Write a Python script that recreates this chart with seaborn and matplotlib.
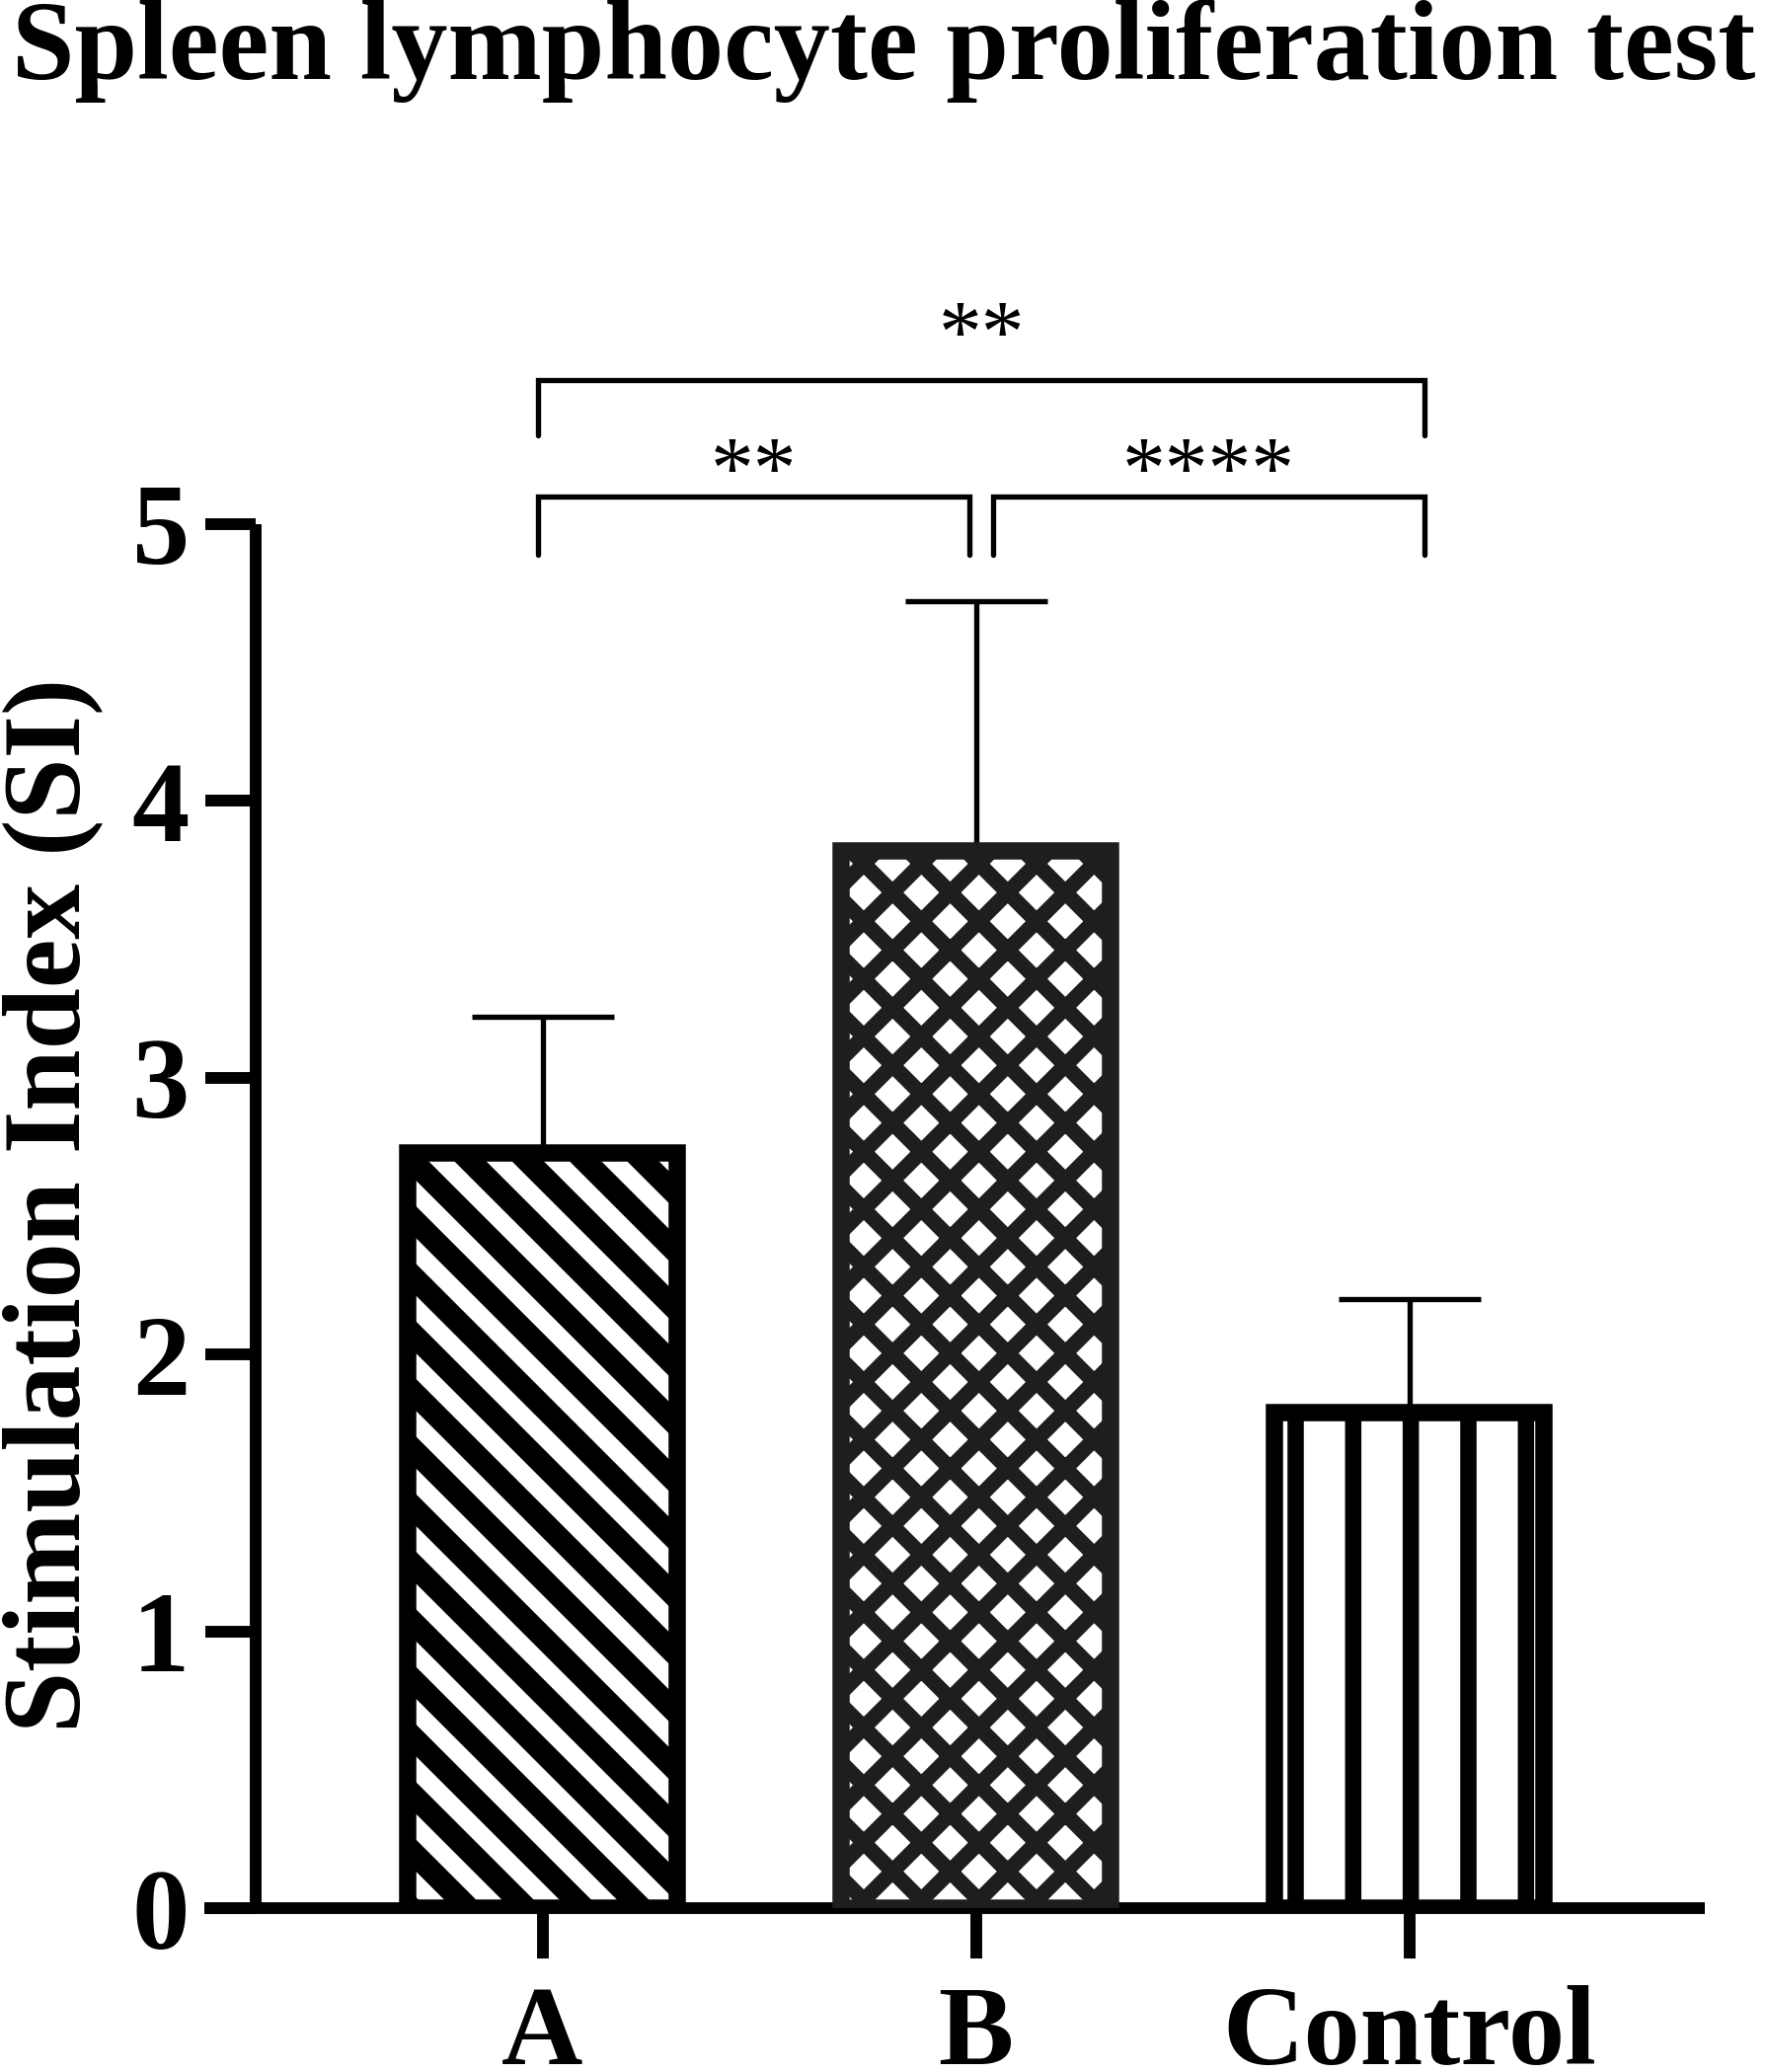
import numpy as np
import pandas as pd
import seaborn as sns
import matplotlib.pyplot as plt

# values
groups = ["A", "B", "Control"]
si_mean = [2.73, 3.82, 1.79]
si_sd = [0.49, 0.90, 0.41]
hatches = ["\\\\", "xx", "|"]

# significance brackets: (left end, right end, bar height, leg bottom, label)
br_left = [-0.01, -0.01, 1.04]
br_right = [2.035, 0.985, 2.035]
br_height = [5.52, 5.10, 5.10]
br_leg = [5.32, 4.89, 4.89]
br_label = ["**", "**", "****"]
br_text_off = [0.07, 0.0, 0.0]

sns.set_style("ticks")
plt.rcParams["font.family"] = ["Liberation Serif", "DejaVu Serif"]
plt.rcParams.update({
    "text.color": "black", "axes.labelcolor": "black",
    "axes.edgecolor": "black", "xtick.color": "black", "ytick.color": "black",
    "hatch.linewidth": 4.0,
})

DPI = 350
fig = plt.figure(figsize=(1791 / DPI, 2099 / DPI), dpi=DPI)
ax = fig.add_axes([0.1156, 0.0789, 0.8487, 0.7684])

df = pd.DataFrame({"group": groups, "si": si_mean})
sns.barplot(data=df, x="group", y="si", hue="group", palette=["white"] * 3,
            edgecolor="black", linewidth=3.6, width=0.623, errorbar=None,
            legend=False, ax=ax, zorder=3)

hatch_lw = [4.7, 3.2, 3.4]
edge_cols = ["black", "#1e1e20", "black"]
for bar, h, lw, ec in zip(ax.patches, hatches, hatch_lw, edge_cols):
    bar.set_hatch(h)
    bar.set_edgecolor(ec)
    if hasattr(bar, "set_hatch_linewidth"):
        bar.set_hatch_linewidth(lw)

ax.errorbar(np.arange(len(groups)), si_mean,
            yerr=[np.zeros(len(groups)), si_sd],
            fmt="none", ecolor="black", elinewidth=1.1,
            capsize=14.8, capthick=1.1, zorder=2)

for x1, x2, y, yl, lab, off in zip(br_left, br_right, br_height, br_leg,
                                   br_label, br_text_off):
    ax.plot([x1, x1, x2, x2], [yl, y, y, yl], color="black", lw=1.1,
            clip_on=False, solid_joinstyle="miter")
    ax.text((x1 + x2) / 2, y + off, lab, ha="center", va="baseline",
            fontsize=18, clip_on=False)

ax.set_xlim(-0.78, 2.682)
ax.set_ylim(0, 5.75)
ax.set_yticks([0, 1, 2, 3, 4, 5])

for side in ["top", "right"]:
    ax.spines[side].set_visible(False)
ax.spines["left"].set_position(("data", -0.6617))
ax.spines["left"].set_bounds(0, 5)
for side in ["left", "bottom"]:
    ax.spines[side].set_linewidth(2.45)
    ax.spines[side].set_capstyle("butt")

ax.tick_params(axis="both", length=10.5, width=2.45, color="black")
ax.tick_params(axis="y", labelsize=24, pad=3.3)
ax.tick_params(axis="x", labelsize=23.5, pad=5.5)
for lab in ax.get_xticklabels() + ax.get_yticklabels():
    lab.set_fontweight("bold")

ax.set_xlabel("")
ax.set_ylabel("Stimulation Index (SI)", fontsize=23, fontweight="bold")
ax.yaxis.set_label_coords(0.058, 0.4183, transform=fig.transFigure)

fig.text(0.5, 0.962, "Spleen lymphocyte proliferation test", ha="center",
         va="baseline", fontsize=23.5, fontweight="bold")

fig.savefig("out.png", dpi=DPI, facecolor="white")
